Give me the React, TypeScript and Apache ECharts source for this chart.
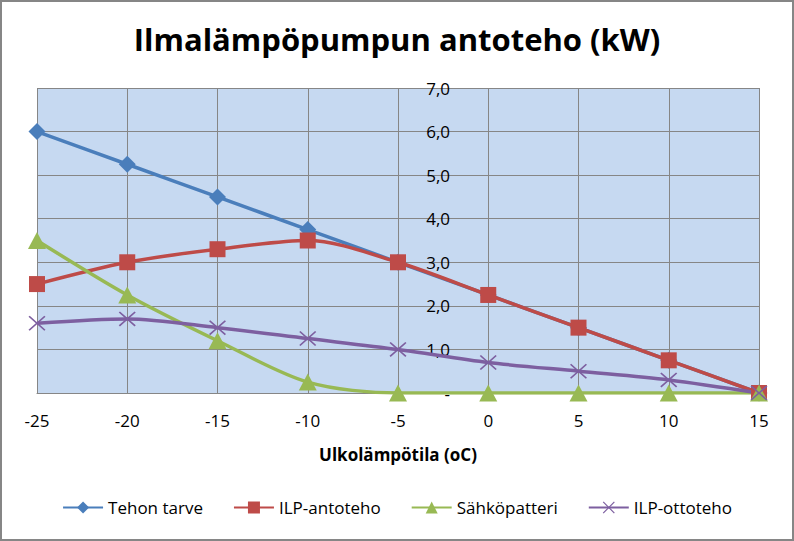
import React, { useEffect, useRef } from "react";
import * as echarts from "echarts";

const temps = [-25, -20, -15, -10, -5, 0, 5, 10, 15];
const tehonTarve = [6.0, 5.25, 4.5, 3.75, 3.0, 2.25, 1.5, 0.75, 0];
const ilpAntoteho = [2.5, 3.0, 3.3, 3.5, 3.0, 2.25, 1.5, 0.75, 0];
const sahkopatteri = [3.5, 2.25, 1.2, 0.25, 0, 0, 0, 0, 0];
const ilpOttoteho = [1.6, 1.7, 1.5, 1.25, 1.0, 0.7, 0.5, 0.3, 0];

const seriesNames = ["Tehon tarve", "ILP-antoteho", "Sähköpatteri", "ILP-ottoteho"];
const FONT = '"Open Sans", "Noto Sans", sans-serif';

const crossPath =
  "path://M0,1 L1,0 L7,6 L13,0 L14,1 L8,7 L14,13 L13,14 L7,8 L1,14 L0,13 L6,7 Z";

export default function App() {
  const ref = useRef<HTMLDivElement>(null);
  useEffect(() => {
    if (!ref.current) return;
    const chart = echarts.init(ref.current, null, { renderer: "svg" });
    const pair = (arr: number[]) => temps.map((t, i) => [t, arr[i]]);
    const mk = (name: string, arr: number[], color: string, symbol: string, size: any) => ({
      name,
      type: "line",
      data: pair(arr),
      smooth: 0.3,
      symbol,
      symbolSize: size,
      showSymbol: true,
      lineStyle: { color, width: 3.5 },
      itemStyle: { color, borderWidth: 0 },
    });
    chart.setOption({
      animation: false,
      backgroundColor: "#ffffff",
      title: {
        text: "Ilmalämpöpumpun antoteho (kW)",
        left: "center",
        top: 18,
        textStyle: { fontFamily: FONT, fontWeight: "bold", fontSize: 31, color: "#000" },
      },
      graphic: [
        {
          type: "rect",
          shape: { x: 1, y: 1, width: 792, height: 539 },
          style: { fill: "none", stroke: "#868686", lineWidth: 2 },
          silent: true,
        },
      ],
      grid: {
        left: 37,
        right: 35,
        top: 88,
        bottom: 148,
        show: true,
        backgroundColor: "#C6D9F1",
        borderWidth: 0,
      },
      legend: {
        data: seriesNames,
        bottom: 20,
        left: "center",
        itemWidth: 40,
        itemHeight: 15,
        itemGap: 30,
        textStyle: { fontFamily: FONT, fontSize: 17, color: "#000" },
      },
      xAxis: {
        type: "value",
        min: -25,
        max: 15,
        interval: 5,
        name: "Ulkolämpötila (oC)",
        nameLocation: "middle",
        nameGap: 53,
        nameTextStyle: { fontFamily: FONT, fontWeight: "bold", fontSize: 17, color: "#000" },
        axisLine: { show: true, onZero: false, lineStyle: { color: "#868686", width: 1 } },
        axisTick: { show: false },
        axisLabel: { fontFamily: FONT, fontSize: 17, color: "#000", margin: 19 },
        splitLine: { show: true, lineStyle: { color: "#868686", width: 1 } },
      },
      yAxis: {
        type: "value",
        min: 0,
        max: 7,
        interval: 1,
        position: "left",
        offset: -451,
        axisLine: { show: false },
        axisTick: { show: false },
        axisLabel: {
          fontFamily: FONT,
          fontSize: 17,
          color: "#000",
          margin: 38,
          formatter: (v: number) => (v === 0 ? "-" : v.toFixed(1).replace(".", ",")),
        },
        splitLine: { show: true, lineStyle: { color: "#868686", width: 1 } },
      },
      series: [
        mk(seriesNames[0], tehonTarve, "#4A7EBB", "diamond", 17),
        mk(seriesNames[1], ilpAntoteho, "#BE4B48", "rect", 16),
        mk(seriesNames[2], sahkopatteri, "#98B954", "triangle", [18, 17]),
        mk(seriesNames[3], ilpOttoteho, "#7D5FA0", crossPath, [17, 15]),
      ],
    });
    return () => chart.dispose();
  }, []);
  return (
    <div
      ref={ref}
      style={{ position: "fixed", left: 0, top: 0, width: 794, height: 541 }}
    />
  );
}
